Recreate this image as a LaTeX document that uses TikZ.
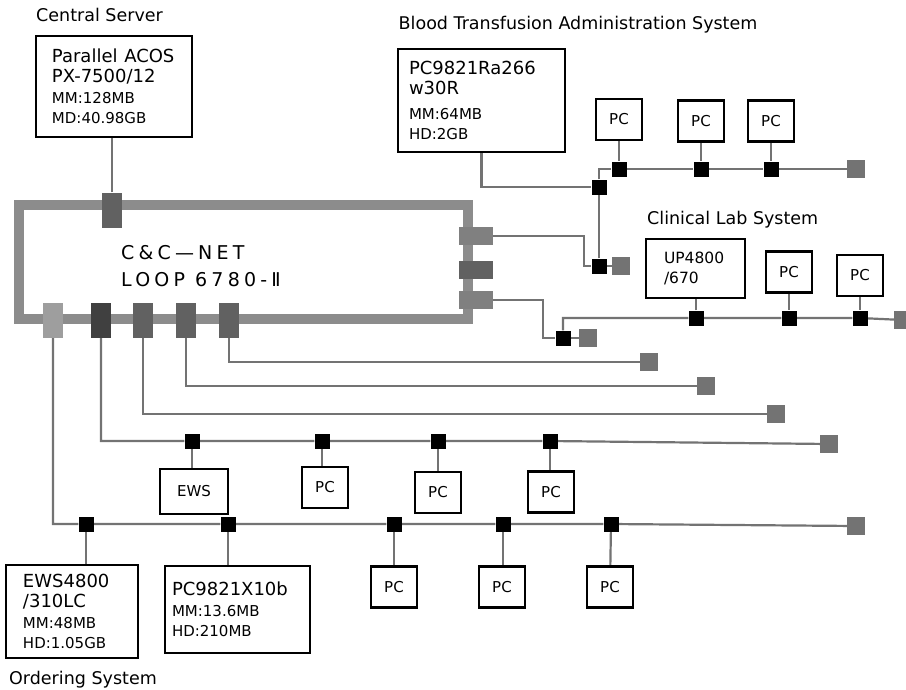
\documentclass[tikz,border=0pt]{standalone}
\usepackage{fontspec}
\setmainfont{DejaVu Sans}
\newfontfamily\loopfont[LetterSpace=22]{DejaVu Sans}

\pgfdeclarelayer{bg}
\pgfsetlayers{bg,main}

\definecolor{ringgray}{gray}{0.55}
\definecolor{tapdark}{gray}{0.38}
\definecolor{tapdarker}{gray}{0.25}
\definecolor{tapmid}{gray}{0.5}
\definecolor{taplight}{gray}{0.62}
\definecolor{linkgray}{gray}{0.45}
\definecolor{endgray}{gray}{0.45}

\newcommand{\hwname}{\fontsize{18}{20.5}\selectfont}
\newcommand{\hwspec}{\fontsize{15}{20.5}\selectfont}

\tikzset{
  hwbox/.style={draw, line width=2.6pt, fill=white, align=left, inner sep=0pt},
  pcbox/.style={draw, line width=2.4pt, fill=white, minimum width=46pt,
    minimum height=41pt, inner sep=0pt, font=\fontsize{15}{18}\selectfont},
  link/.style={draw=linkgray, line width=2.2pt},
  blk/.style={fill=black, minimum size=15pt, inner sep=0pt},
  endsq/.style={fill=endgray, minimum size=18pt, inner sep=0pt},
  tapv/.style={minimum width=20pt, minimum height=35pt, inner sep=0pt},
  taph/.style={minimum width=34pt, minimum height=18pt, inner sep=0pt},
  syslabel/.style={inner sep=0pt, anchor=base west, font=\fontsize{17.5}{20}\selectfont}
}

\begin{document}
\begin{tikzpicture}[x=1pt, y=-1pt, line join=miter]
  \useasboundingbox (0,0) rectangle (906,689);

  % loop
  \node[draw=ringgray, line width=10pt, minimum width=449pt, minimum height=114pt,
    inner sep=0pt] (loop) at (243.5,262) {};
  \node[anchor=west, align=left, inner sep=0pt,
    font=\loopfont\fontsize{19}{27}\selectfont] (looptxt) at (121,266.5)
    {C\&C—NET\\LOOP 6780-Ⅱ};

  % taps on the loop
  \node[tapv, fill=tapdark] (tapS) at (112,210) {};
  \node[tapv, fill=taplight] (tapA) at (53,320) {};
  \node[tapv, fill=tapdarker] (tapB) at (101,320) {};
  \node[tapv, fill=tapdark] (tapC) at (143,320) {};
  \node[tapv, fill=tapdark] (tapD) at (186,320) {};
  \node[tapv, fill=tapdark] (tapE) at (229,320) {};
  \node[taph, fill=tapmid] (tapR1) at (476,236) {};
  \node[taph, fill=tapdark] (tapR2) at (476,270) {};
  \node[taph, fill=tapmid] (tapR3) at (476,300) {};

  % labels
  \node[syslabel] (lblsrv) at (36,21.5) {Central Server};
  \node[syslabel] (lblbta) at (398.5,29.5) {Blood Transfusion Administration System};
  \node[syslabel] (lblcl) at (647,224.5) {Clinical Lab System};
  \node[syslabel] (lblord) at (9,684) {Ordering System};

  % central server
  \node[hwbox, minimum width=156pt, minimum height=101pt, text width=124pt] (srv)
    at (114,86.5) {\hwname Parallel~~ACOS\\PX-7500/12\\\hwspec MM:128MB\\MD:40.98GB\par};

  % blood transfusion
  \node[hwbox, minimum width=167pt, minimum height=103pt, text width=145pt] (bta)
    at (481.5,100.5) {\hwname PC9821Ra266\\w30R\\[4pt]\hwspec MM:64MB\\HD:2GB\par};
  \node[blk] (jb) at (599,187) {};
  \node[blk] (jt) at (599,266) {};
  \node[endsq] (et) at (621,266) {};
  \coordinate (k1) at (584,266);
  \node[blk] (b1) at (619,169) {};
  \node[blk] (b2) at (701,169) {};
  \node[blk] (b3) at (771,169) {};
  \node[endsq] (eb) at (856,169) {};
  \node[pcbox] (pcb1) at (619,119.5) {PC};
  \node[pcbox] (pcb2) at (701,121) {PC};
  \node[pcbox] (pcb3) at (771,121) {PC};

  % clinical lab
  \node[hwbox, minimum width=99pt, minimum height=59pt, text width=63pt,
    font=\fontsize{15.5}{19.5}\selectfont] (up4800) at (695.5,268.5) {UP4800\\/670\par};
  \node[pcbox] (pcc1) at (789,272) {PC};
  \node[pcbox] (pcc2) at (860,275.5) {PC};
  \coordinate (k3) at (543,338);
  \node[blk] (jc) at (563,338) {};
  \node[endsq] (ec) at (588,338) {};
  \node[blk] (c1) at (696,318) {};
  \node[blk] (c2) at (789,318) {};
  \node[blk] (c3) at (860,318) {};
  \node[endsq] (ecl) at (903,320) {};

  % open ends of the loop lines
  \node[endsq] (eE) at (649,362) {};
  \node[endsq] (eD) at (706,386) {};
  \node[endsq] (eC) at (776,414) {};

  % ordering system, upper line
  \node[blk] (bB1) at (192,441) {};
  \node[blk] (bB2) at (322,441) {};
  \node[blk] (bB3) at (438,441) {};
  \node[blk] (bB4) at (550,441) {};
  \node[endsq] (eB) at (829,444) {};
  \node[pcbox, minimum width=68pt, minimum height=45pt] (ews) at (194,491.5) {EWS};
  \node[pcbox] (pcm1) at (325,487.5) {PC};
  \node[pcbox] (pcm2) at (438,492.5) {PC};
  \node[pcbox] (pcm3) at (551,492) {PC};

  % ordering system, lower line
  \node[blk] (bA1) at (86,524) {};
  \node[blk] (bA2) at (228,524) {};
  \node[blk] (bA3) at (394,524) {};
  \node[blk] (bA4) at (503,524) {};
  \node[blk] (bA5) at (611,524) {};
  \node[endsq] (eA) at (856,526) {};
  \node[hwbox, minimum width=132pt, minimum height=93pt, text width=98pt] (ews4800)
    at (72,611.5) {\hwname EWS4800\\/310LC\\\hwspec MM:48MB\\HD:1.05GB\par};
  \node[hwbox, minimum width=145pt, minimum height=87pt, text width=131pt] (pcx10b)
    at (237.5,609.5) {\hwname PC9821X10b\\\hwspec MM:13.6MB\\HD:210MB\par};
  \node[pcbox] (pcl1) at (394,587) {PC};
  \node[pcbox] (pcl2) at (502,587) {PC};
  \node[pcbox] (pcl3) at (610,587) {PC};

  \begin{pgfonlayer}{bg}
    \draw[link] (tapS) -- (tapS |- srv.south);

    \draw[link] (bta.south) |- (jb);
    \draw[link] (tapR1) -| (k1) -- (jt);
    \draw[link] (jt) -- (et);
    \draw[link] (jt) -- (jb);
    \draw[link] (jb) |- (b1) -- (b2) -- (b3) -- (eb);
    \draw[link] (pcb1) -- (b1);
    \draw[link] (pcb2) -- (b2);
    \draw[link] (pcb3) -- (b3);

    \draw[link] (tapR3) -| (k3) -- (jc);
    \draw[link] (jc) -- (ec);
    \draw[link] (jc) |- (c1) -- (c2) -- (c3) -- (ecl);
    \draw[link] (c1) -- (c1 |- up4800.south);
    \draw[link] (pcc1) -- (c2);
    \draw[link] (pcc2) -- (c3);

    \draw[link] (tapE) |- (eE);
    \draw[link] (tapD) |- (eD);
    \draw[link] (tapC) |- (eC);

    \draw[link] (tapB) |- (bB1) -- (bB2) -- (bB3) -- (bB4) -- (eB);
    \draw[link] (bB1) -- (bB1 |- ews.north);
    \draw[link] (bB2) -- (bB2 |- pcm1.north);
    \draw[link] (bB3) -- (pcm2);
    \draw[link] (bB4) -- (bB4 |- pcm3.north);

    \draw[link] (tapA) |- (bA1) -- (bA2) -- (bA3) -- (bA4) -- (bA5) -- (eA);
    \draw[link] (bA1) -- (bA1 |- ews4800.north);
    \draw[link] (bA2) -- (bA2 |- pcx10b.north);
    \draw[link] (bA3) -- (pcl1);
    \draw[link] (bA4) -- (bA4 |- pcl2.north);
    \draw[link] (bA5) -- (pcl3);
  \end{pgfonlayer}
\end{tikzpicture}
\end{document}
